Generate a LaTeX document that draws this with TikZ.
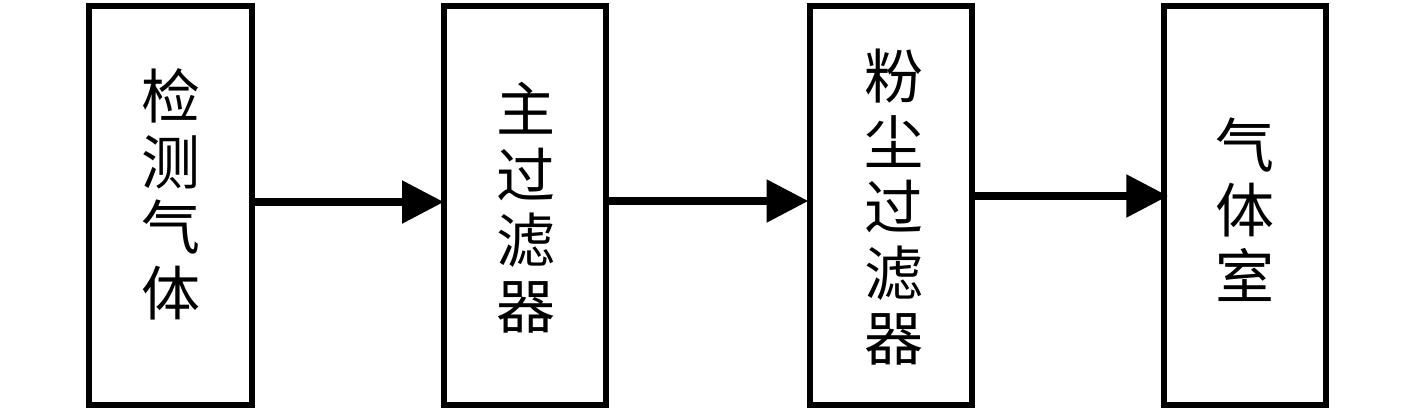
\documentclass[tikz,border=0pt]{standalone}
\usepackage{fontspec}
\newfontfamily\cjk{Noto Sans CJK SC}
\usetikzlibrary{arrows.meta}
\begin{document}
\begin{tikzpicture}[x=1pt,y=-1pt,
  blk/.style={draw=black,line width=6pt,rectangle,minimum height=399pt,inner sep=0pt},
  lbl/.style={font=\cjk\fontsize{59}{65.5}\selectfont,align=center,inner sep=0pt},
  conn/.style={line width=8.5pt,-{Triangle[length=42pt,width=41pt]}}]
\useasboundingbox (0,0) rectangle (1417,413);
\node[blk,minimum width=163pt] (b1) at (170.5,205.5) {};
\node[blk,minimum width=162pt] (b2) at (525,205.5) {};
\node[blk,minimum width=162pt] (b3) at (890.5,205.5) {};
\node[blk,minimum width=161.5pt] (b4) at (1245,205.5) {};
\node[lbl] (t1) at (171,194.5) {检\\测\\气\\体};
\node[lbl] (t2) at (526,207.5) {主\\过\\滤\\器};
\node[lbl] (t3) at (894,207.5) {粉\\尘\\过\\滤\\器};
\node[lbl] (t4) at (1245,209.5) {气\\体\\室};
\draw[conn,shorten >=-3pt] ([yshift=3.5pt]b1.east) -- ([yshift=3.5pt]b2.west);
\draw[conn,shorten >=-2pt] ([yshift=4.5pt]b2.east) -- ([yshift=4.5pt]b3.west);
\draw[conn,shorten >=-7pt] ([yshift=9.5pt]b3.east) -- ([yshift=9.5pt]b4.west);
\end{tikzpicture}
\end{document}
